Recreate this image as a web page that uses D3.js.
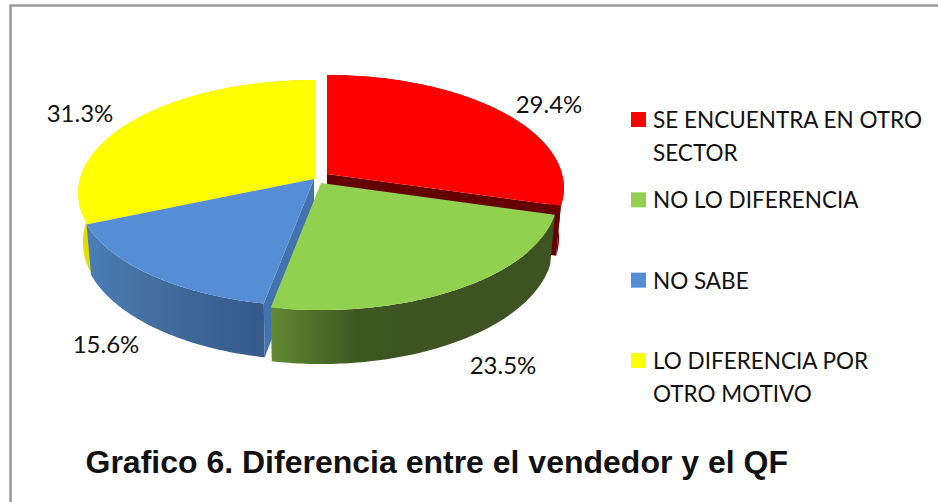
<!DOCTYPE html>
<html>
<head>
<meta charset="utf-8">
<script src="https://cdnjs.cloudflare.com/ajax/libs/d3/7.8.5/d3.min.js"></script>
<style>
  html, body { margin: 0; padding: 0; background: #fff; }
  svg { display: block; }
  .pct, .legend-label { font-family: Lato, "Open Sans", sans-serif; fill: #111; }
  .pct { font-size: 24px; }
  .legend-label { font-size: 22.5px; }
  .title { font-family: "Liberation Sans", Arial, sans-serif; font-weight: bold; font-size: 32px; fill: #111; }
</style>
</head>
<body>
<svg width="938" height="502"></svg>
<script>
const categories = ["SE ENCUENTRA EN OTRO SECTOR", "NO LO DIFERENCIA", "NO SABE", "LO DIFERENCIA POR OTRO MOTIVO"];
const values = [29.4, 23.5, 15.6, 31.3];
const legendLines = [["SE ENCUENTRA EN OTRO", "SECTOR"], ["NO LO DIFERENCIA"], ["NO SABE"], ["LO DIFERENCIA POR", "OTRO MOTIVO"]];
const topColors = ["#ff0000", "#92d050", "#558ed5", "#ffff00"];
const cutColors = ["#650000", null, "#4273ad", null];
const wallStops = [
  ["#7d0000", "#7d0000"],
  ["#638a35", "#4f7029", "#3f5823", "#3d5422"],
  ["#4a7db8", "#44709f", "#3c6496", "#365a8a"],
  ["#e2de00", "#e2de00"]
];

const svg = d3.select("svg");
const defs = svg.append("defs");

// border of the pasted chart
svg.append("path")
  .attr("d", "M10.5,502V5.5H938")
  .attr("fill", "none")
  .attr("stroke", "#999")
  .attr("stroke-width", 2.5);

// pie centre of each exploded slice, same order as categories
const apexes = [[327, 174], [321, 183], [314, 179], [315, 179]];
const rx = 235, ry = 111.3, persp = 0.124;

// tilted disc: angle from the top, clockwise, with the near side bigger
function project(a, apex) {
  const u = Math.sin(a), v = -Math.cos(a), w = 1 - persp * v;
  return [apex[0] + rx * u / w, apex[1] + ry * v / w];
}

// same point on the lower rim
function drop(p, apex) {
  const dy = p[1] - apex[1];
  return [apex[0] + (p[0] - apex[0]) * 0.98, p[1] + 48.5 + 0.043 * dy];
}

const arcs = d3.pie().sort(null).value(d => d)(values);
const line = d3.line();

function rim(d, apex) {
  const steps = 90;
  return d3.range(steps + 1).map(i => project(d.startAngle + (d.endAngle - d.startAngle) * i / steps, apex));
}

const chart = svg.append("g");

// painted back to front
[3, 0, 2, 1].forEach(i => {
  const d = arcs[i], apex = apexes[i];
  const top = rim(d, apex);
  const bottom = top.map(p => drop(p, apex));
  const ext = d3.extent(top, p => p[0]);

  const grad = defs.append("linearGradient")
    .attr("id", `wall${i}`)
    .attr("gradientUnits", "userSpaceOnUse")
    .attr("x1", ext[0])
    .attr("x2", i === 1 ? 400 : ext[1])
    .attr("y1", 0).attr("y2", 0);
  grad.selectAll("stop")
    .data(wallStops[i])
    .join("stop")
    .attr("offset", (c, k, all) => k / (all.length - 1))
    .attr("stop-color", c => c);

  chart.append("path")
    .attr("d", line(top.concat(bottom.slice().reverse())) + "Z")
    .attr("fill", `url(#wall${i})`);

  // cut face: clockwise end of red, start of blue
  if (cutColors[i]) {
    const edge = i === 2 ? top[0] : top[top.length - 1];
    chart.append("path")
      .attr("d", line([apex, edge, drop(edge, apex), drop(apex, apex)]) + "Z")
      .attr("fill", cutColors[i]);
  }

  chart.append("path")
    .attr("d", line([apex].concat(top)) + "Z")
    .attr("fill", topColors[i]);
});

// percentage labels
const labelX = [549, 503, 106, 80];
const labelY = [105, 366, 345, 114];
svg.selectAll(".pct")
  .data(values)
  .join("text")
  .attr("class", "pct")
  .attr("x", (d, i) => labelX[i])
  .attr("y", (d, i) => labelY[i])
  .attr("dy", "0.35em")
  .attr("text-anchor", "middle")
  .text(d => d.toFixed(1) + "%");

// legend
const legendY = d3.scalePoint().domain(categories).range([112, 353]);
const legend = svg.selectAll(".legend-item")
  .data(categories)
  .join("g")
  .attr("class", "legend-item")
  .attr("transform", d => `translate(631,${legendY(d)})`);

legend.append("rect")
  .attr("width", 15)
  .attr("height", 15)
  .attr("fill", (d, i) => topColors[i]);

legend.append("text")
  .attr("class", "legend-label")
  .each(function(d, i) {
    d3.select(this).selectAll("tspan")
      .data(legendLines[i])
      .join("tspan")
      .attr("x", 22)
      .attr("y", (t, k) => 16 + k * 33)
      .text(t => t);
  });

svg.append("text")
  .attr("class", "title")
  .attr("x", 85.5)
  .attr("y", 473)
  .text("Grafico 6. Diferencia entre el vendedor y el QF");
</script>
</body>
</html>
